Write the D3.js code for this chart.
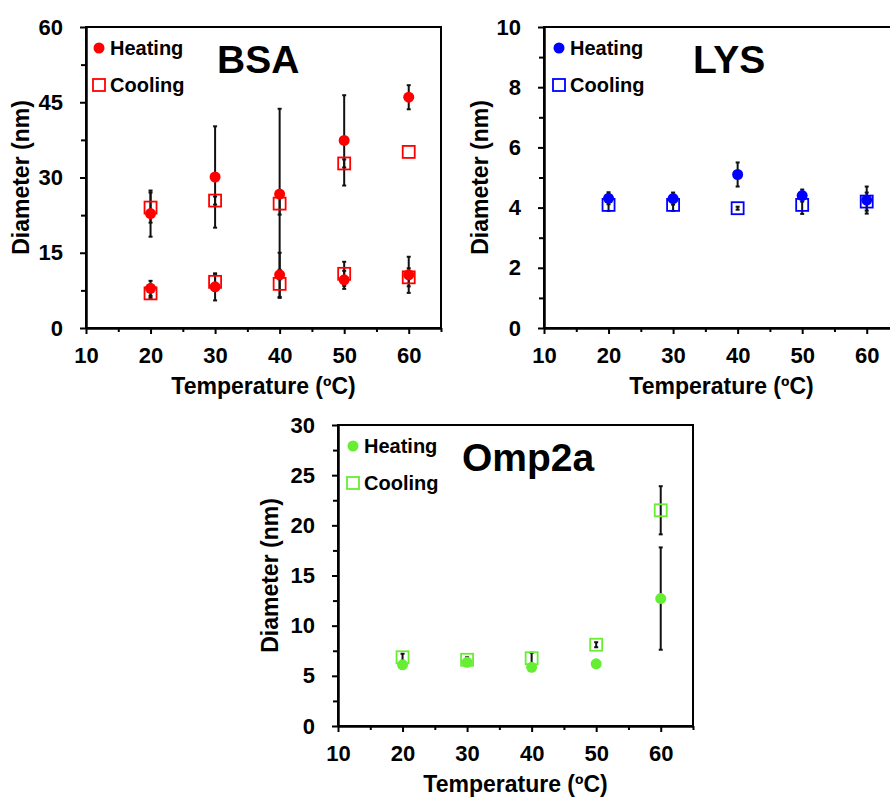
<!DOCTYPE html>
<html>
<head>
<meta charset="utf-8">
<script src="https://d3js.org/d3.v7.min.js"></script>
<style>
  body { margin: 0; background: #fff; }
  text { font-family: "Liberation Sans", Arial, sans-serif; font-weight: bold; }
</style>
</head>
<body>
<div id="chart"></div>
<script>

// temperatures (x)
var temps = [20, 30, 40, 50, 60];

// BSA - two size populations for each run
var bsaHeatLarge    = [22.8, 30.1, 26.7, 37.4, 46.0];
var bsaHeatLargeErr = [4.6, 10.1, 17.0, 9.0, 2.4];
var bsaCoolLarge    = [24.0, 25.4, 24.8, 32.8, 35.1];
var bsaCoolLargeErr = [3.0, 0.8, 2.2, 0.8, 0];
var bsaHeatSmall    = [7.9, 8.2, 10.6, 9.6, 10.6];
var bsaHeatSmallErr = [1.5, 2.7, 4.4, 1.8, 3.6];
var bsaCoolSmall    = [6.9, 9.2, 8.8, 10.8, 10.1];
var bsaCoolSmallErr = [0.9, 1.5, 2.8, 2.4, 1.8];

// LYS
var lysHeat    = [4.31, 4.3, 5.1, 4.4, 4.25];
var lysHeatErr = [0.2, 0.2, 0.4, 0.2, 0.45];
var lysCool    = [4.09, 4.09, 3.98, 4.09, 4.2];
var lysCoolErr = [0.2, 0.2, 0.05, 0.3, 0.3];

// Omp2a
var ompHeat    = [6.1, 6.35, 5.85, 6.2, 12.7];
var ompHeatErr = [0.2, 0.2, 0.2, 0.2, 5.1];
var ompCool    = [6.85, 6.6, 6.75, 8.1, 21.5];
var ompCoolErr = [0.35, 0.25, 0.55, 0.25, 2.4];

// tick values
var xTicks = [10, 20, 30, 40, 50, 60];
var xMinor = [15, 25, 35, 45, 55, 65];
var bsaYTicks = [0, 15, 30, 45, 60];
var bsaYMinor = [7.5, 22.5, 37.5, 52.5];
var lysYTicks = [0, 2, 4, 6, 8, 10];
var lysYMinor = [1, 3, 5, 7, 9];
var ompYTicks = [0, 5, 10, 15, 20, 25, 30];
var ompYMinor = [2.5, 7.5, 12.5, 17.5, 22.5, 27.5];

var W = 890, H = 802;
var svg = d3.select("#chart").append("svg")
    .attr("width", W)
    .attr("height", H);

function series(vals, errs) {
  return temps.map(function(t, i) { return {x: t, y: vals[i], e: errs[i]}; });
}

function drawPanel(p) {
  var g = svg.append("g").attr("transform", "translate(" + p.left + "," + p.top + ")");
  var w = 355, h = 301;

  var x = d3.scaleLinear().domain([10, 65]).range([0, w]);
  var y = d3.scaleLinear().domain(p.yDomain).range([h, 0]);

  // frame
  g.append("rect")
    .attr("width", w).attr("height", h)
    .attr("fill", "none").attr("stroke", "#000").attr("stroke-width", 2);

  // minor ticks
  g.append("g")
    .attr("transform", "translate(0," + h + ")")
    .call(d3.axisBottom(x).tickValues(xMinor).tickSize(4).tickFormat("").tickSizeOuter(0))
    .call(function(s) { s.select(".domain").remove(); s.selectAll("line").attr("stroke-width", 2); });
  g.append("g")
    .call(d3.axisLeft(y).tickValues(p.yMinor).tickSize(5).tickFormat("").tickSizeOuter(0))
    .call(function(s) { s.select(".domain").remove(); s.selectAll("line").attr("stroke-width", 2); });

  // major axes
  var xa = g.append("g")
    .attr("transform", "translate(0," + h + ")")
    .call(d3.axisBottom(x).tickValues(xTicks).tickSize(6).tickPadding(13).tickSizeOuter(0));
  var ya = g.append("g")
    .call(d3.axisLeft(y).tickValues(p.yTicks).tickSize(6).tickPadding(17).tickSizeOuter(0));
  [xa, ya].forEach(function(a) {
    a.select(".domain").attr("stroke-width", 2.5);
    a.selectAll("line").attr("stroke-width", 2);
    a.selectAll("text").attr("font-size", 22).attr("fill", "#000")
      .style("font-family", '"Liberation Sans", Arial, sans-serif').style("font-weight", "bold");
  });

  // axis titles
  g.append("text")
    .attr("x", (x(10) + x(65)) / 2).attr("y", h + 66)
    .attr("text-anchor", "middle").attr("font-size", 23)
    .text("Temperature (ºC)");
  g.append("text")
    .attr("transform", "translate(" + (-p.yLabelOff) + "," + (h / 2) + ") rotate(-90)")
    .attr("text-anchor", "middle").attr("font-size", 23)
    .text("Diameter (nm)");

  // panel title
  g.append("text")
    .attr("x", p.titleX).attr("y", 46)
    .attr("font-size", 39)
    .text(p.title);

  // legend
  g.append("circle").attr("cx", p.legX).attr("cy", 21).attr("r", 5.5).attr("fill", p.color);
  g.append("text").attr("x", p.legX + 11).attr("y", 28).attr("font-size", 20).text("Heating");
  g.append("rect").attr("x", p.legX - 6).attr("y", 52).attr("width", 12).attr("height", 12)
    .attr("fill", "none").attr("stroke", p.color).attr("stroke-width", 1.8);
  g.append("text").attr("x", p.legX + 11).attr("y", 65).attr("font-size", 20).text("Cooling");

  var heat = [], cool = [];
  p.heat.forEach(function(s) { heat = heat.concat(s); });
  p.cool.forEach(function(s) { cool = cool.concat(s); });
  var all = heat.concat(cool).filter(function(d) { return d.e > 0; });

  // error bars
  var eb = g.append("g").attr("stroke", "#111").attr("stroke-width", 2);
  eb.selectAll(".v").data(all).enter().append("line")
    .attr("x1", function(d) { return x(d.x); }).attr("x2", function(d) { return x(d.x); })
    .attr("y1", function(d) { return y(d.y - d.e); }).attr("y2", function(d) { return y(d.y + d.e); });
  [-1, 1].forEach(function(sgn) {
    eb.selectAll(".c" + sgn).data(all).enter().append("line")
      .attr("x1", function(d) { return x(d.x) - 2; }).attr("x2", function(d) { return x(d.x) + 2; })
      .attr("y1", function(d) { return y(d.y + sgn * d.e); }).attr("y2", function(d) { return y(d.y + sgn * d.e); });
  });

  // cooling squares
  g.selectAll(".sq").data(cool).enter().append("rect")
    .attr("x", function(d) { return x(d.x) - 6; })
    .attr("y", function(d) { return y(d.y) - 6; })
    .attr("width", 12).attr("height", 12)
    .attr("fill", "none").attr("stroke", p.color).attr("stroke-width", 1.8);

  // heating circles
  g.selectAll(".dot").data(heat).enter().append("circle")
    .attr("cx", function(d) { return x(d.x); })
    .attr("cy", function(d) { return y(d.y); })
    .attr("r", 5.5).attr("fill", p.color);
}

drawPanel({
  left: 86, top: 27, yDomain: [0, 60], yTicks: bsaYTicks, yMinor: bsaYMinor,
  color: "#ff0000", title: "BSA", titleX: 131, legX: 13, yLabelOff: 57,
  heat: [series(bsaHeatLarge, bsaHeatLargeErr), series(bsaHeatSmall, bsaHeatSmallErr)],
  cool: [series(bsaCoolLarge, bsaCoolLargeErr), series(bsaCoolSmall, bsaCoolSmallErr)]
});

drawPanel({
  left: 544, top: 27, yDomain: [0, 10], yTicks: lysYTicks, yMinor: lysYMinor,
  color: "#0000ff", title: "LYS", titleX: 149, legX: 15, yLabelOff: 56,
  heat: [series(lysHeat, lysHeatErr)],
  cool: [series(lysCool, lysCoolErr)]
});

drawPanel({
  left: 338, top: 425, yDomain: [0, 30], yTicks: ompYTicks, yMinor: ompYMinor,
  color: "#66ee33", title: "Omp2a", titleX: 124, legX: 15, yLabelOff: 60,
  heat: [series(ompHeat, ompHeatErr)],
  cool: [series(ompCool, ompCoolErr)]
});

</script>
</body>
</html>
